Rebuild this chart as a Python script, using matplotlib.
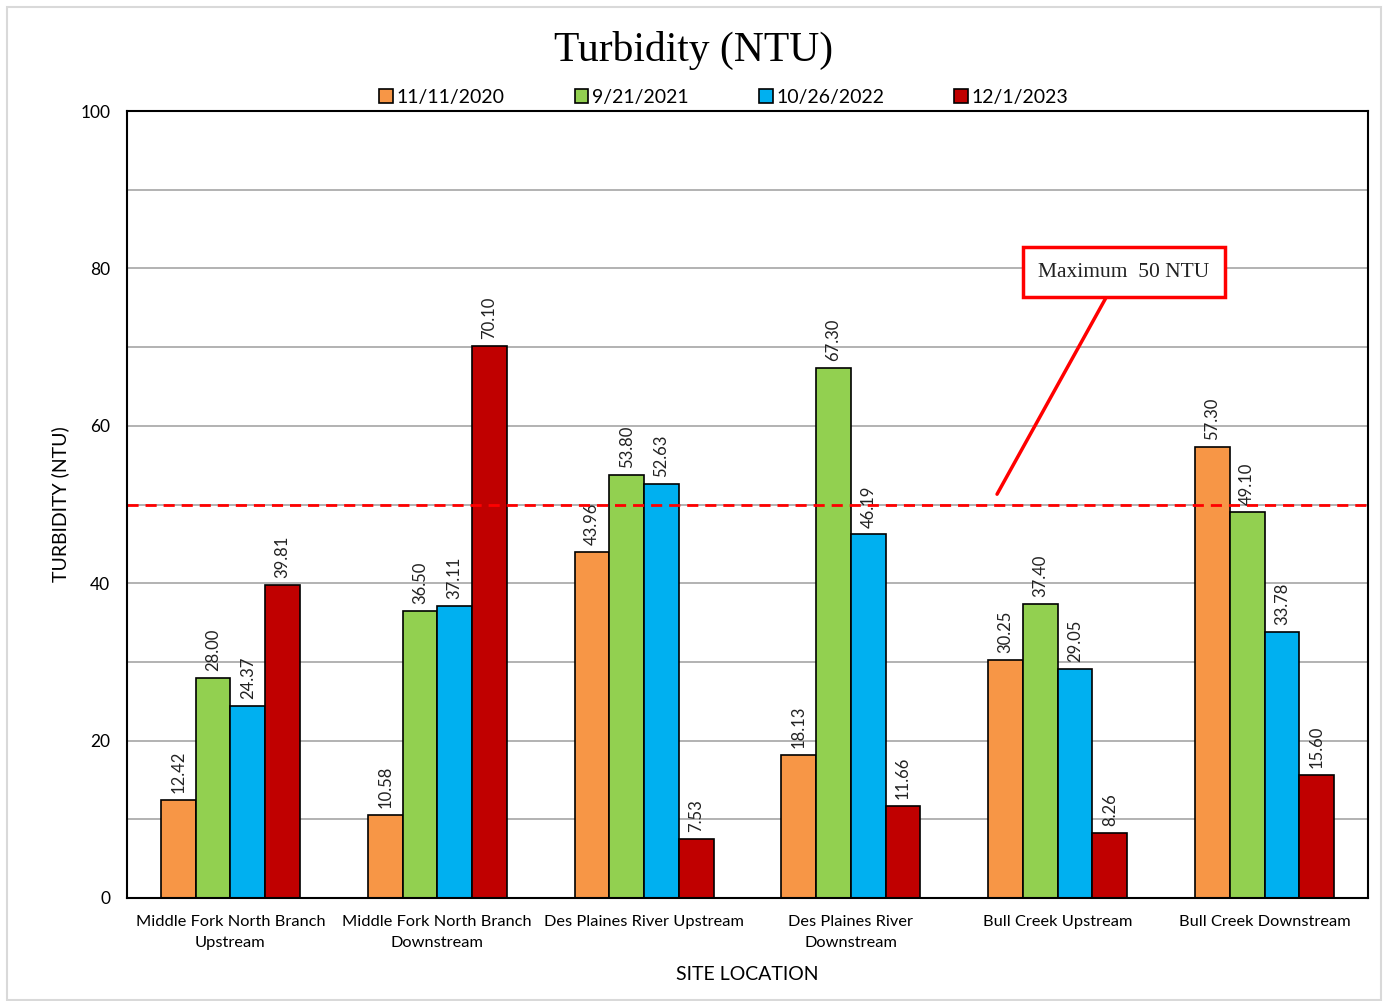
import matplotlib
matplotlib.use("Agg")
import matplotlib.pyplot as plt
import numpy as np
from matplotlib.patches import Rectangle

sites = ["Middle Fork North Branch\nUpstream", "Middle Fork North Branch\nDownstream",
         "Des Plaines River Upstream", "Des Plaines River\nDownstream",
         "Bull Creek Upstream", "Bull Creek Downstream"]
dates = ["11/11/2020", "9/21/2021", "10/26/2022", "12/1/2023"]
v2020 = [12.42, 10.58, 43.96, 18.13, 30.25, 57.30]
v2021 = [28.00, 36.50, 53.80, 67.30, 37.40, 49.10]
v2022 = [24.37, 37.11, 52.63, 46.19, 29.05, 33.78]
v2023 = [39.81, 70.10, 7.53, 11.66, 8.26, 15.60]
labels2020 = ["12.42", "10.58", "43.96", "18.13", "30.25", "57.30"]
labels2021 = ["28.00", "36.50", "53.80", "67.30", "37.40", "49.10"]
labels2022 = ["24.37", "37.11", "52.63", "46.19", "29.05", "33.78"]
labels2023 = ["39.81", "70.10", "7.53", "11.66", "8.26", "15.60"]
colors = ["#F79646", "#92D050", "#00B0F0", "#C00000"]
limit = 50

series = [v2020, v2021, v2022, v2023]
series_labels = [labels2020, labels2021, labels2022, labels2023]

sans = ["Lato", "DejaVu Sans"]
serif = ["Liberation Serif", "DejaVu Serif"]

fig = plt.figure(figsize=(13.87, 10.01), dpi=100)
fig.patches.append(Rectangle((7/1387, 0.001), 1374/1387, 0.992, transform=fig.transFigure,
                             fill=False, edgecolor="#d9d9d9", linewidth=1.5))
ax = fig.add_axes([127/1387, 103/1001, 1241/1387, 787/1001])

x = np.arange(len(sites))
w = 0.168
for i, (vals, labs) in enumerate(zip(series, series_labels)):
    xs = x + (i - 1.5) * w
    ax.bar(xs, vals, width=w, color=colors[i], edgecolor="black", linewidth=1.2,
           label=dates[i], zorder=3)
    for xi, v, lab in zip(xs, vals, labs):
        ax.annotate(lab, (xi, v), xytext=(0, 5), textcoords="offset points",
                    rotation=90, ha="center", va="bottom", fontsize=12,
                    family=sans, color="#222222")

ax.axhline(limit, color="#FF0000", linestyle=(0, (4, 2.5)), linewidth=2, zorder=4)

ax.set_xlim(-0.5, len(sites) - 0.5)
ax.set_ylim(0, 100)
ax.set_yticks(np.arange(0, 101, 20))
ax.set_yticks(np.arange(0, 101, 10), minor=True)
ax.grid(axis="y", which="both", color="#a6a6a6", linewidth=1.2, zorder=0)
ax.tick_params(axis="both", which="both", length=0)
ax.tick_params(axis="y", pad=12, labelsize=12.5)
ax.tick_params(axis="x", pad=12, labelsize=11.8)
ax.set_xticks(x)
ax.set_xticklabels(sites, family=sans, linespacing=1.65)
for lab in ax.get_yticklabels():
    lab.set_family(sans)
for s in ax.spines.values():
    s.set_linewidth(1.5)
    s.set_color("black")
    s.set_zorder(5)

ax.set_ylabel("TURBIDITY (NTU)", family=sans, fontsize=14, labelpad=8)
ax.set_xlabel("SITE LOCATION", family=sans, fontsize=14, labelpad=12)

fig.text(0.5, 0.950, "Turbidity (NTU)", ha="center", va="center", fontsize=30, family=serif)

leg = fig.legend(loc="center", bbox_to_anchor=(0.522, 0.903), ncol=4, frameon=False,
                 prop={"family": sans, "size": 14}, handlelength=0.7, handleheight=0.7,
                 handletextpad=0.2, columnspacing=3.6)

ax.annotate("", xy=(3.70, 51.0), xytext=(4.24, 76.6),
            arrowprops=dict(arrowstyle="-", color="#FF0000", lw=2.5), zorder=6)
ax.text(4.32, 79.5, "Maximum  50 NTU", ha="center", va="center", fontsize=15.5, family=serif,
        color="#222222", zorder=7,
        bbox=dict(boxstyle="square,pad=0.72", facecolor="white", edgecolor="#FF0000", linewidth=2.5))

fig.savefig("out.png", dpi=100)
